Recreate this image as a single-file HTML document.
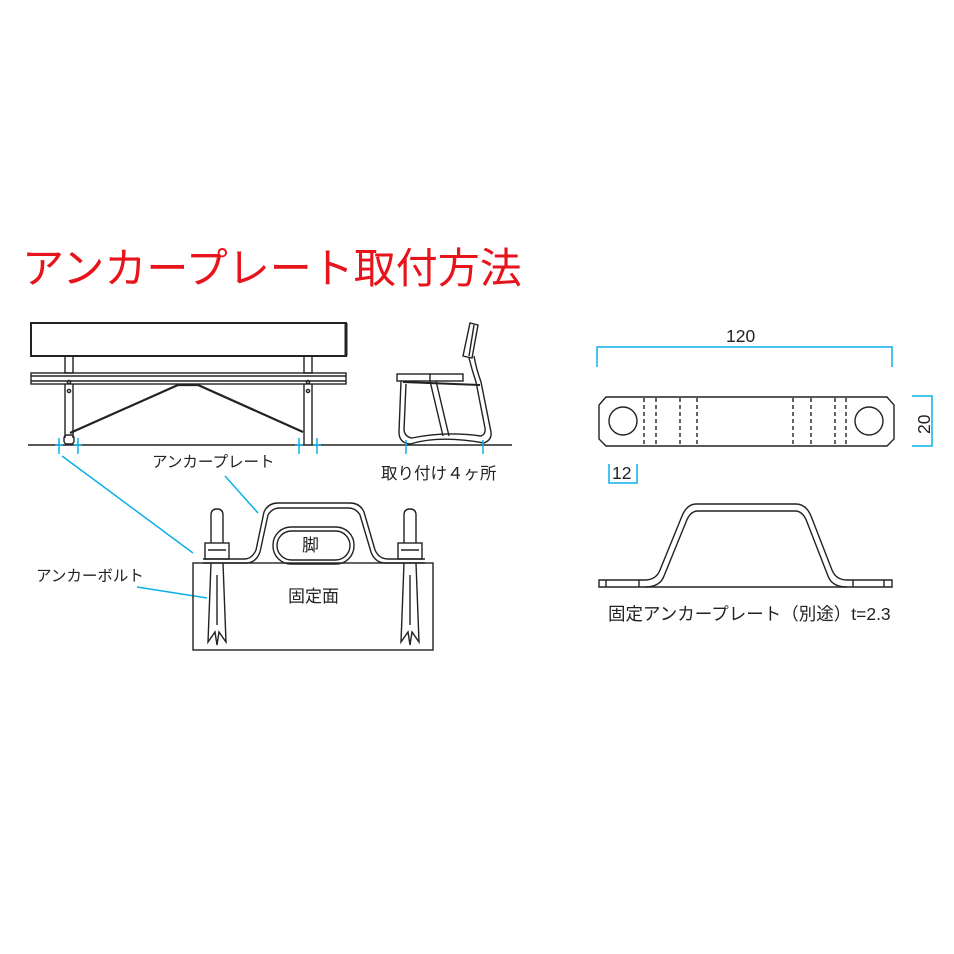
<!DOCTYPE html>
<html><head><meta charset="utf-8"><style>
body{margin:0;background:#fff}
svg{display:block}
text{font-family:"Liberation Sans","Noto Sans CJK JP",sans-serif;fill:#222}
</style></head><body>
<svg width="954" height="954" viewBox="0 0 954 954" xmlns="http://www.w3.org/2000/svg">
<text x="22" y="283" font-size="42" style="fill:#e8141b">アンカープレート取付方法</text>

<g fill="none" stroke="#222" stroke-width="1.4">
<rect x="31" y="323" width="315" height="33" stroke-width="2"/>
<line x1="346" y1="323" x2="346" y2="356" stroke-width="3"/>
<rect x="65" y="356" width="8" height="17"/>
<rect x="304" y="356" width="8" height="17"/>
<rect x="31" y="373" width="315" height="11"/>
<line x1="31" y1="376" x2="346" y2="376"/>
<line x1="31" y1="381" x2="346" y2="381"/>
<line x1="65" y1="384" x2="65" y2="438"/><line x1="73" y1="384" x2="73" y2="438"/>
<line x1="304" y1="384" x2="304" y2="445"/><line x1="312" y1="384" x2="312" y2="445"/>
<circle cx="69" cy="382" r="1.6"/><circle cx="69" cy="391" r="1.6"/>
<circle cx="308" cy="382" r="1.6"/><circle cx="308" cy="391" r="1.6"/>
<path d="M70 433 L178 385 L198 385 L303 432" stroke-width="2.2"/>
<rect x="64" y="435" width="10" height="9" rx="3"/>
<line x1="28" y1="445" x2="512" y2="445"/>
<path d="M463 356 L470 323 L478 325 L472 358 Z"/>
<line x1="474" y1="325" x2="469" y2="356"/>
<rect x="397" y="374" width="66" height="7"/>
<line x1="430" y1="374" x2="430" y2="381"/>
<path d="M401 381 L399 432 Q399 443 410 444 Q440 435 484 443 Q492 440 491 432 L481 382 Q476 368 474 356"/>
<path d="M406 384 L404 430 Q405 437 412 438 Q445 431 481 436 Q486 434 485 428 L476 382 Q472 370 469 358"/>
<path d="M430 381 L443 436 M436 381 L449 436"/>
<path d="M403 382 L480 385" stroke-width="2"/>
</g>
<g stroke="#0bb0e8" stroke-width="1.5" fill="none">
<path d="M59 438v16 M55 445h8 M78 438v16 M74 445h8"/>
<path d="M299 438v16 M295 445h8 M317 438v16 M313 445h8"/>
<path d="M406 440v14 M483 440v14"/>
<line x1="62" y1="456" x2="193" y2="553"/>
<line x1="225" y1="476" x2="258" y2="513"/>
<line x1="137" y1="587" x2="207" y2="598"/>
<path d="M597 367v-20h295v20"/>
<path d="M912 396h20v50h-20"/>
<path d="M609 464v19h28v-19"/>
</g>
<text x="152" y="467" font-size="15.5">アンカープレート</text>
<text x="381" y="479" font-size="16.5">取り付け４ヶ所</text>
<text x="36" y="581" font-size="15.5">アンカーボルト</text>

<g fill="none" stroke="#222" stroke-width="1.4">
<rect x="193" y="563" width="240" height="87"/>
<path d="M203 559 L244 559 Q252 559 256 550 L264 512 Q268 503 278 503 L350 503 Q360 503 364 512 L375 550 Q379 559 388 559 L425 559"/>
<path d="M203 563 L246 563 Q256 563 260 552 L268 515 Q272 508 280 508 L348 508 Q356 508 360 515 L371 552 Q375 563 386 563 L425 563"/>
<rect x="273" y="527" width="81" height="37" rx="18"/>
<rect x="277" y="531" width="73" height="29" rx="14.5"/>
<g>
<path d="M211 543 V515 Q211 509 217 509 Q223 509 223 515 V543"/>
<rect x="205" y="543" width="24" height="16"/>
<path d="M208 550h18"/>
<path d="M211 563 L208 642 L215 632 L217 645 L219 632 L226 642 L223 563"/>
<path d="M217 575 L217 625"/>
</g>
<g transform="translate(193,0)">
<path d="M211 543 V515 Q211 509 217 509 Q223 509 223 515 V543"/>
<rect x="205" y="543" width="24" height="16"/>
<path d="M208 550h18"/>
<path d="M211 563 L208 642 L215 632 L217 645 L219 632 L226 642 L223 563"/>
<path d="M217 575 L217 625"/>
</g>
</g>
<text x="302" y="551" font-size="17">脚</text>
<text x="288" y="602" font-size="17">固定面</text>

<g fill="none" stroke="#222" stroke-width="1.4">
<path d="M606 397 L887 397 L894 405 L894 439 L887 446 L606 446 L599 439 L599 405 Z"/>
<circle cx="623" cy="421" r="14"/><circle cx="869" cy="421" r="14"/>
<g stroke-dasharray="4,3">
<path d="M644 398v48 M656 398v48 M680 398v48 M697 398v48 M793 398v48 M811 398v48 M835 398v48 M846 398v48"/>
</g>
<path d="M599 580 L645 580 Q656 580 660 570 L682 516 Q687 504 696 504 L796 504 Q806 504 811 516 L832 570 Q836 580 847 580 L892 580 L892 587 L599 587 Z"/>
<path d="M645 587 Q660 587 664 576 L686 522 Q690 511 698 511 L795 511 Q803 511 807 522 L828 576 Q832 587 847 587"/>
<path d="M606 580v7 M639 580v7 M853 580v7 M884 580v7"/>
</g>
<text x="726" y="342" font-size="17.5">120</text>
<text x="0" y="0" font-size="17.5" transform="translate(930,434) rotate(-90)">20</text>
<text x="612" y="479" font-size="17.5">12</text>
<text x="608" y="620" font-size="17.5">固定アンカープレート（別途）t=2.3</text>
</svg>
</body></html>
